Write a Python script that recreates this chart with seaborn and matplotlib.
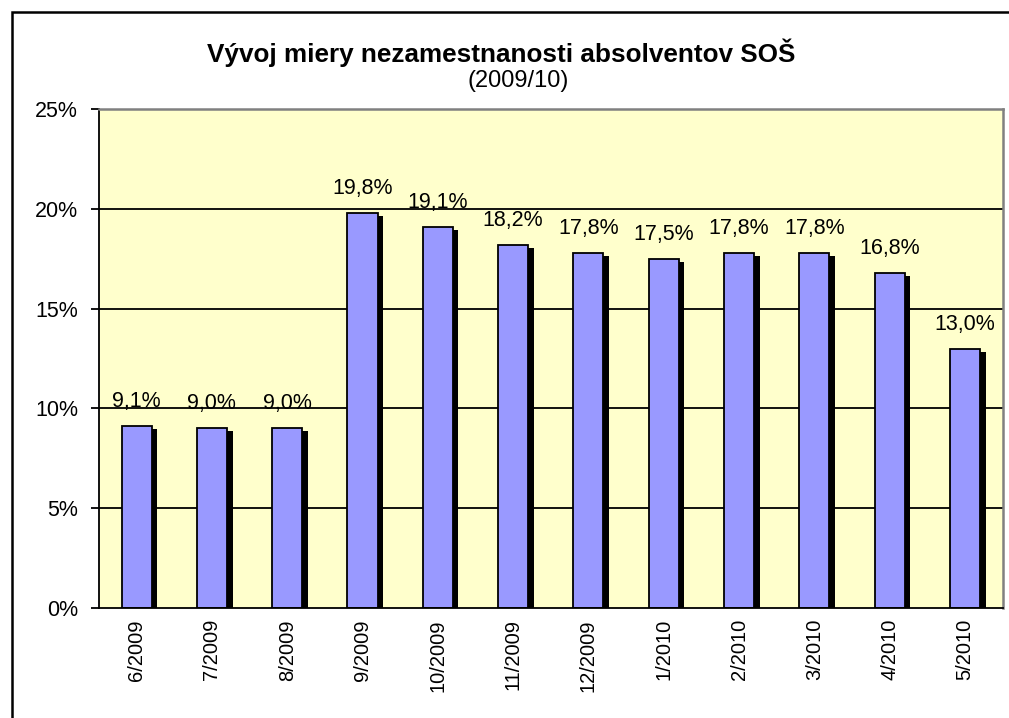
import matplotlib
matplotlib.use('Agg')
import matplotlib.pyplot as plt
import matplotlib.patheffects as pe
import seaborn as sns
import pandas as pd
from matplotlib.patches import Rectangle

months = ['6/2009', '7/2009', '8/2009', '9/2009', '10/2009', '11/2009',
          '12/2009', '1/2010', '2/2010', '3/2010', '4/2010', '5/2010']
rates = [9.1, 9.0, 9.0, 19.8, 19.1, 18.2, 17.8, 17.5, 17.8, 17.8, 16.8, 13.0]
y_ticks = [0, 5, 10, 15, 20, 25]

df = pd.DataFrame({'month': months, 'rate': rates})

sns.set_theme(style='white')
plt.rcParams['font.family'] = ['Liberation Sans', 'DejaVu Sans']
plt.rcParams['text.color'] = 'black'
plt.rcParams['xtick.color'] = 'black'
plt.rcParams['ytick.color'] = 'black'

fig = plt.figure(figsize=(10.09, 7.18), dpi=100)
ax = fig.add_axes([0.0981, 0.1532, 0.8955, 0.6950])
ax.set_facecolor('#FFFFCC')

for y in y_ticks[1:-1]:
    ax.axhline(y, color='black', lw=1.3, zorder=0)

sns.barplot(data=df, x='month', y='rate', color='#9999FF', saturation=1,
            width=0.4, edgecolor='black', linewidth=1.3, ax=ax, zorder=2)

# excel-style drop shadow on the bars
shadow = [pe.SimplePatchShadow(offset=(4, -2.2), shadow_rgbFace='black', alpha=1.0), pe.Normal()]
for bar in ax.patches:
    bar.set_path_effects(shadow)

for i, v in enumerate(rates):
    ax.text(i, v + 0.7, f'{v:.1f}%'.replace('.', ','), ha='center', va='bottom',
            fontsize=15.5, color='black')

ax.set_ylim(0, 25)
ax.set_xlim(-0.5, len(months) - 0.5)
ax.set_yticks(y_ticks)
ax.set_yticklabels([f'{t}%' for t in y_ticks], fontsize=15.5)
ax.set_xticks(range(len(months)))
ax.set_xticklabels(months, rotation=90, fontsize=14.5)
ax.set_xticks([i - 0.5 for i in range(len(months) + 1)], minor=True)
ax.tick_params(axis='x', which='major', length=0, pad=8)
ax.tick_params(axis='x', which='minor', length=6, width=1.3, color='black', direction='out')
ax.tick_params(axis='y', length=6, width=1.3, color='black', direction='out', left=True, pad=9)
ax.set_xlabel('')
ax.set_ylabel('')

for side in ['left', 'bottom']:
    ax.spines[side].set_color('black')
    ax.spines[side].set_linewidth(1.3)
for side in ['top', 'right']:
    ax.spines[side].set_visible(True)
    ax.spines[side].set_color('#808080')
    ax.spines[side].set_linewidth(1.8)

fig.text(0.4965, 0.927, 'Vývoj miery nezamestnanosti absolventov SOŠ', ha='center', va='center',
         fontsize=18.8, fontweight='bold')
fig.text(0.5135, 0.887, '(2009/10)', ha='center', va='center', fontsize=17)

fig.patches.append(Rectangle((12 / 1009, -0.1), 1.2, 1.1 - 12 / 718, transform=fig.transFigure,
                             fill=False, edgecolor='black', lw=1.8, zorder=10))

fig.savefig('out.png', dpi=100, facecolor='white')
